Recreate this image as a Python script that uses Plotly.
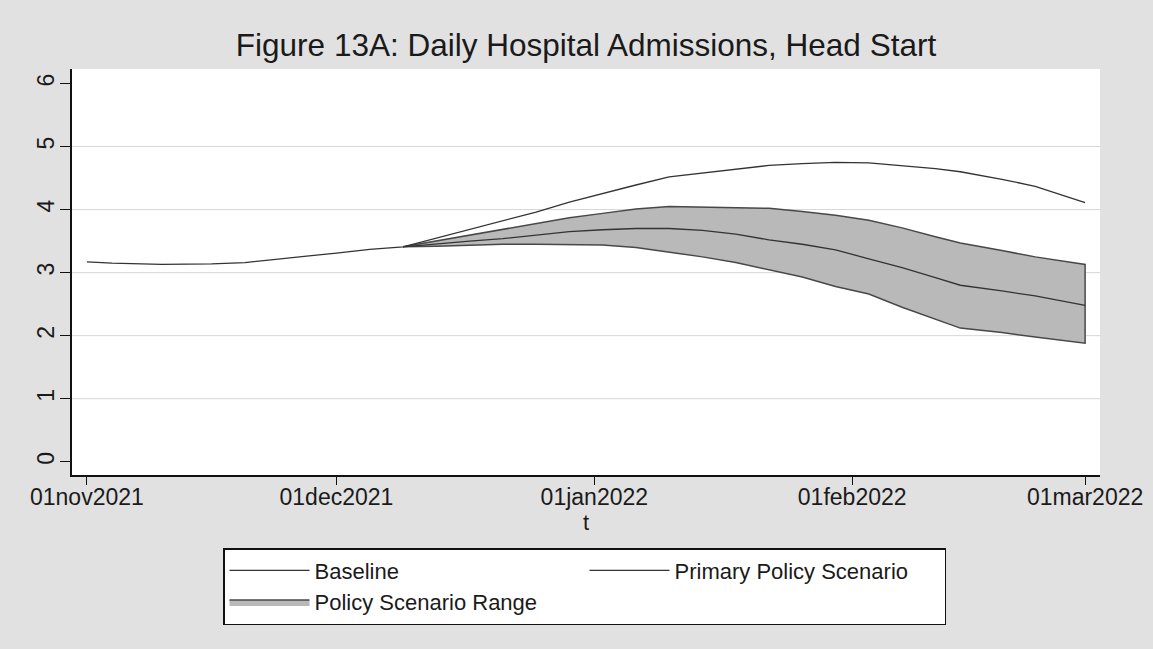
import plotly.graph_objects as go

# ---------------- data ----------------
baseline_dates = ["2021-11-01", "2021-11-04", "2021-11-10", "2021-11-16", "2021-11-20",
                  "2021-11-24", "2021-11-28", "2021-12-01", "2021-12-05"]
baseline_early = [3.17, 3.15, 3.13, 3.14, 3.16, 3.21, 3.27, 3.31, 3.37]

dates = ["2021-12-09", "2021-12-13", "2021-12-17", "2021-12-21", "2021-12-25", "2021-12-29",
         "2022-01-02", "2022-01-06", "2022-01-10", "2022-01-14", "2022-01-18", "2022-01-22",
         "2022-01-26", "2022-01-30", "2022-02-03", "2022-02-07", "2022-02-11", "2022-02-14",
         "2022-02-19", "2022-02-23", "2022-03-01"]
baseline_late = [3.41, 3.55, 3.69, 3.82, 3.96, 4.12, 4.26, 4.39, 4.52, 4.58, 4.65, 4.70,
                 4.73, 4.75, 4.74, 4.70, 4.65, 4.60, 4.48, 4.37, 4.11]
upper = [3.41, 3.50, 3.60, 3.68, 3.77, 3.87, 3.94, 4.01, 4.05, 4.04, 4.03, 4.02,
         3.97, 3.91, 3.83, 3.71, 3.57, 3.47, 3.35, 3.25, 3.13]
primary = [3.41, 3.46, 3.50, 3.54, 3.59, 3.65, 3.68, 3.70, 3.70, 3.67, 3.61, 3.52,
           3.45, 3.36, 3.22, 3.08, 2.92, 2.80, 2.71, 2.63, 2.48]
lower = [3.41, 3.42, 3.43, 3.45, 3.45, 3.45, 3.44, 3.40, 3.33, 3.25, 3.16, 3.05,
         2.93, 2.78, 2.66, 2.45, 2.26, 2.12, 2.05, 1.98, 1.88]

x_tick_vals = ["2021-11-01", "2021-12-01", "2022-01-01", "2022-02-01", "2022-03-01"]
x_tick_text = ["01nov2021", "01dec2021", "01jan2022", "01feb2022", "01mar2022"]
y_tick_vals = [0, 1, 2, 3, 4, 5, 6]
grid_vals = [1, 2, 3, 4, 5]

title_text = "Figure 13A: Daily Hospital Admissions, Head Start"

# ---------------- figure ----------------
FONT = "Liberation Sans, Arial, sans-serif"
fig = go.Figure()

fig.add_trace(go.Scatter(
    x=dates + dates[::-1], y=upper + lower[::-1],
    fill="toself", fillcolor="#b9b9b9", mode="lines",
    line=dict(color="#484848", width=1.5),
    name="Policy Scenario Range", legendrank=3, hoverinfo="skip"))

fig.add_trace(go.Scatter(
    x=baseline_dates + dates, y=baseline_early + baseline_late, mode="lines",
    line=dict(color="#333333", width=1.3), name="Baseline", legendrank=1))

fig.add_trace(go.Scatter(
    x=dates, y=primary, mode="lines",
    line=dict(color="#333333", width=1.3), name="Primary Policy Scenario", legendrank=2))

shapes = [dict(type="line", xref="paper", x0=0, x1=1, yref="y", y0=g, y1=g,
               line=dict(color="#d6d6d6", width=1), layer="below") for g in grid_vals]

fig.update_layout(
    width=1153, height=649,
    paper_bgcolor="#e1e1e1", plot_bgcolor="white",
    margin=dict(l=72, r=53, t=69, b=174, autoexpand=False),
    font=dict(family=FONT, color="#1a1a1a", size=22),
    title=dict(text=title_text, x=0.5, xref="paper", xanchor="center",
               y=1 - 45 / 649, yref="container", yanchor="middle",
               font=dict(size=31.5, color="#1a1a1a")),
    showlegend=True,
    legend=dict(orientation="h", x=(223 - 72) / 1028, xanchor="left",
                y=(475 - 548) / 406, yanchor="top",
                bgcolor="white", bordercolor="#111111", borderwidth=1.5,
                entrywidth=265, entrywidthmode="pixels", itemwidth=80,
                font=dict(size=22, family=FONT, color="#1a1a1a"),
                traceorder="normal"),
    shapes=shapes,
    xaxis=dict(type="date", range=["2021-10-30 05:00", "2022-03-02 19:00"],
               tickmode="array", tickvals=x_tick_vals, ticktext=x_tick_text,
               ticks="outside", ticklen=8, tickwidth=1.3, tickcolor="#111",
               showline=True, linecolor="#111", linewidth=1.5,
               showgrid=False, zeroline=False, ticklabelstandoff=-7,
               tickfont=dict(size=23),
               title=dict(text="t", standoff=0, font=dict(size=22))),
    yaxis=dict(range=[-0.21, 6.23], tickmode="array", tickvals=y_tick_vals,
               ticks="outside", ticklen=10, tickwidth=1.3, tickcolor="#111",
               showline=True, linecolor="#111", linewidth=1.5,
               showgrid=False, zeroline=False, tickangle=-90,
               ticklabelstandoff=-3, tickfont=dict(size=23)),
)

fig.write_html("out.html", config={"displayModeBar": False},
               post_script="document.body.style.margin='0';")
